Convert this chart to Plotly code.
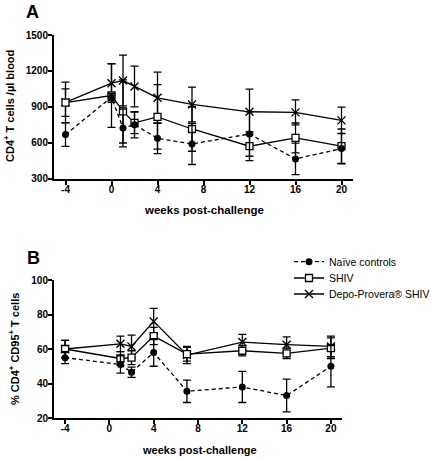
import plotly.graph_objects as go

# ---------------- data ----------------
weeks_A = [-4, 0, 1, 2, 4, 7, 12, 16, 20]
naive_A = [667, 980, 722, 750, 636, 589, 672, 464, 550]
naive_A_err = [98, 30, 158, 110, 128, 172, 186, 131, 128]
shiv_A = [935, 994, 861, 765, 815, 714, 570, 639, 570]
shiv_A_err = [115, 266, 264, 90, 270, 186, 120, 125, 144]
depo_A = [937, 1097, 1119, 1069, 975, 919, 858, 853, 786]
depo_A_err = [169, 161, 212, 170, 214, 145, 190, 105, 111]

weeks_B = [-4, 1, 2, 4, 7, 12, 16, 20]
naive_B = [55, 51, 46.5, 58, 35.5, 38, 33, 50]
naive_B_err = [3.5, 5, 3, 8, 6.5, 9, 9.5, 12]
shiv_B = [60, 54.5, 55, 67.5, 57, 59, 57.5, 60.5]
shiv_B_err = [5, 4, 4, 5, 4, 3, 3, 6]
depo_B = [60, 63, 61.5, 76, 56.5, 64, 62.5, 61.5]
depo_B_err = [5, 4.5, 6.5, 7.5, 5, 4.5, 4.5, 6]

x_ticks = [-4, 0, 4, 8, 12, 16, 20]
x_tick_text = ["-4", "0", "4", "8", "12", "16", "20"]
yA_ticks = [300, 600, 900, 1200, 1500]
yB_ticks = [20, 40, 60, 80, 100]

W, H = 442, 459
FONT = "Liberation Sans, Arial, Helvetica, sans-serif"


def px(x):
    return x / W


def py(y):
    return 1 - y / H


def err(arr):
    return dict(type="data", array=arr, visible=True, color="black",
                thickness=1.3, width=4)


styles = {
    "Naïve controls": dict(line=dict(color="black", width=1.3, dash="4px,3px"),
                           marker=dict(symbol="circle", size=7, color="black")),
    "SHIV": dict(line=dict(color="black", width=1.3),
                 marker=dict(symbol="square", size=7, color="white",
                             line=dict(color="black", width=1.3))),
    "Depo-Provera® SHIV": dict(line=dict(color="black", width=1.3),
                               marker=dict(symbol="x-thin", size=8, color="black",
                                           line=dict(color="black", width=1.4))),
}

fig = go.Figure()

# Panel A (draw order: Depo, SHIV, Naive on top)
for name, ys, es in [("Depo-Provera® SHIV", depo_A, depo_A_err),
                     ("SHIV", shiv_A, shiv_A_err),
                     ("Naïve controls", naive_A, naive_A_err)]:
    fig.add_trace(go.Scatter(x=weeks_A, y=ys, error_y=err(es), mode="lines+markers",
                             name=name, showlegend=False, xaxis="x", yaxis="y",
                             **styles[name]))

legend_ids = {"Naïve controls": "legend", "SHIV": "legend2", "Depo-Provera® SHIV": "legend3"}
for name, ys, es in [("Depo-Provera® SHIV", depo_B, depo_B_err),
                     ("SHIV", shiv_B, shiv_B_err),
                     ("Naïve controls", naive_B, naive_B_err)]:
    fig.add_trace(go.Scatter(x=weeks_B, y=ys, error_y=err(es), mode="lines+markers",
                             name=name, showlegend=True, legend=legend_ids[name],
                             xaxis="x2", yaxis="y2", **styles[name]))

axis_common = dict(showline=True, linecolor="black", linewidth=2, ticks="outside",
                   ticklen=4, tickwidth=2, tickcolor="black", showgrid=False,
                   zeroline=False,
                   tickfont=dict(family=FONT, size=10, color="black", weight="bold"))

fig.update_layout(
    width=W, height=H,
    margin=dict(l=0, r=0, t=0, b=0, autoexpand=False),
    paper_bgcolor="white", plot_bgcolor="white",
    xaxis=dict(domain=[px(54), px(353)], range=[-5, 21], tickvals=x_ticks,
               ticktext=x_tick_text, ticklabelstandoff=-4, anchor="y", **axis_common),
    yaxis=dict(domain=[py(178.5), py(35)], range=[300, 1500], tickvals=yA_ticks,
               ticklabelstandoff=-2, anchor="x", **axis_common),
    xaxis2=dict(domain=[px(54), px(342)], range=[-5, 21], tickvals=x_ticks,
                ticktext=x_tick_text, ticklabelstandoff=-4, anchor="y2", **axis_common),
    yaxis2=dict(domain=[py(418), py(280)], range=[20, 100], tickvals=yB_ticks,
                ticklabelstandoff=-2, anchor="x2", **axis_common),
)

leg_common = dict(xanchor="left", yanchor="middle", bgcolor="rgba(0,0,0,0)",
                  borderwidth=0, itemwidth=30,
                  font=dict(family=FONT, size=10.5, color="black"))
fig.update_layout(
    legend=dict(x=px(289), y=py(261.7), **leg_common),
    legend2=dict(x=px(289), y=py(278.0), **leg_common),
    legend3=dict(x=px(289), y=py(294.0), **leg_common),
)

annots = [
    dict(text="<b>A</b>", x=px(32), y=py(12), size=18, angle=0),
    dict(text="<b>B</b>", x=px(33), y=py(257.5), size=18, angle=0),
    dict(text="<b>CD4<sup>+</sup> T cells /µl blood</b>", x=px(9), y=py(106), size=11, angle=-90),
    dict(text="<b>% CD4<sup>+</sup> CD95<sup>+</sup> T cells</b>", x=px(14), y=py(349), size=11, angle=-90),
    dict(text="<b>weeks post-challenge</b>", x=px(204), y=py(210), size=11.5, angle=0),
    dict(text="<b>weeks post-challenge</b>", x=px(199), y=py(450), size=11, angle=0),
]
for a in annots:
    fig.add_annotation(text=a["text"], x=a["x"], y=a["y"], xref="paper", yref="paper",
                       xanchor="center", yanchor="middle", showarrow=False,
                       textangle=a["angle"],
                       font=dict(family=FONT, size=a["size"], color="black"))

# remove the browser's default 8px body margin so the figure fills the window
fig.write_html("out.html",
               config={"displayModeBar": False},
               post_script="document.body.style.margin='0';document.body.style.overflow='hidden';")
